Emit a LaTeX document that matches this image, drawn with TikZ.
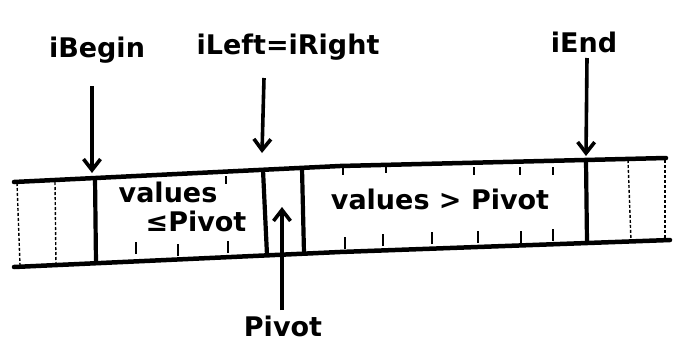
\documentclass[tikz,border=0pt]{standalone}
\usepackage{fontspec}
\setmainfont{DejaVu Sans}
\usetikzlibrary{arrows.meta}
\begin{document}
\begin{tikzpicture}[x=1pt,y=-1pt,
  lab/.style={font=\fontsize{27}{30}\selectfont\bfseries, inner sep=0pt},
  edge/.style={line width=4.5pt, line cap=round},
  cellwall/.style={line width=4.2pt},
  thin/.style={line width=1.4pt, densely dashed},
  tick/.style={line width=1.8pt},
  ptr/.style={line width=3.6pt, -{Straight Barb[length=11pt,width=17pt,line width=3.6pt]}}]
\useasboundingbox (0,0) rectangle (681,349);
% array outline
\coordinate (tl) at (14,182);
\coordinate (tm) at (340,166);
\coordinate (tr) at (666,158);
\coordinate (bl) at (14,267);
\coordinate (bm) at (340,252);
\coordinate (br) at (670,240);
\draw[edge] (tl) -- (tm) -- (tr);
\draw[edge] (bl) -- (bm) -- (br);
% thick walls
\draw[cellwall] (95,177) -- (96,263);
\draw[cellwall] (263,170) -- (267,255);
\draw[cellwall] (302,168) -- (304,253);
\draw[cellwall] (586,160) -- (587,242);
% thin cell lines
\draw[thin] (17,183) -- (20,265);
\draw[thin] (55,182) -- (56,265);
\draw[thin] (628,160) -- (631,241);
\draw[thin] (665,160) -- (665,240);
% ticks
\foreach \x/\y in {136/254,178/256,228/253,345/249,383/246,432/244,478/243,521/243,553/241}
  \draw[tick] (\x,\y) -- (\x,\y-12);
\foreach \x/\y in {226/176,343/167,386/165,474/167,520/167,553/167}
  \draw[tick] (\x,\y) -- (\x,\y+8);
% labels
\node[lab] (ibegin) at (97,50) {iBegin};
\node[lab] (ileft) at (288,47) {iLeft=iRight};
\node[lab] (iend) at (584,42) {iEnd};
\node[lab] (pivot) at (283,326) {Pivot};
\node[lab] (vle1) at (168,192) {values};
\node[lab] (vle2) at (196,221) {≤Pivot};
\node[lab] (vgt) at (440,199) {values > Pivot};
% pointers
\coordinate (a1) at (92,173);
\coordinate (a2) at (262,153);
\coordinate (a3) at (586,156);
\coordinate (a4) at (282,207);
\draw[ptr] (92,86) -- (a1);
\draw[ptr] (264,78) -- (a2);
\draw[ptr] (587,58) -- (a3);
\draw[ptr] (282,310) -- (a4);
\end{tikzpicture}
\end{document}
